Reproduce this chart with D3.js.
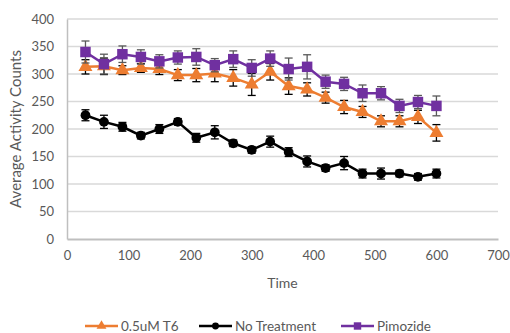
<!DOCTYPE html>
<html>
<head>
<meta charset="utf-8">
<script src="https://cdn.jsdelivr.net/npm/d3@7"></script>
<style>
  body { margin: 0; background: #fff; }
  text { font-family: Lato, "Open Sans", sans-serif; fill: #595959; }
</style>
</head>
<body>
<div id="chart"></div>
<script>
// time points (x)
const times = [30, 60, 90, 120, 150, 180, 210, 240, 270, 300, 330, 360, 390, 420, 450, 480, 510, 540, 570, 600];

// series values
const t6Values = [313, 314, 307, 311, 309, 298, 298, 301, 293, 281, 304, 278, 272, 257, 240, 231, 214, 214, 222, 193];
const t6Err = [13, 15, 8, 8, 10, 10, 12, 15, 15, 20, 15, 15, 12, 10, 12, 10, 10, 10, 12, 15];

const noTreatValues = [225, 213, 204, 188, 200, 213, 184, 194, 174, 162, 177, 158, 141, 129, 138, 119, 119, 119, 113, 119];
const noTreatErr = [10, 12, 8, 6, 8, 6, 8, 12, 6, 6, 10, 8, 10, 6, 12, 8, 10, 6, 6, 8];

const pimozideValues = [340, 318, 336, 331, 323, 330, 331, 316, 327, 311, 328, 309, 313, 286, 282, 265, 265, 242, 249, 242];
const pimozideErr = [20, 18, 15, 13, 12, 12, 15, 12, 15, 15, 14, 20, 22, 12, 12, 15, 12, 12, 12, 18];

const xTicks = [0, 100, 200, 300, 400, 500, 600, 700];
const yTicks = [0, 50, 100, 150, 200, 250, 300, 350, 400];

const series = [
  { name: "0.5uM T6", values: t6Values, err: t6Err, color: "#ed7d31", errColor: "#000", symbol: d3.symbolTriangle, size: 85 },
  { name: "No Treatment", values: noTreatValues, err: noTreatErr, color: "#000000", errColor: "#000", symbol: d3.symbolCircle, size: 75 },
  { name: "Pimozide", values: pimozideValues, err: pimozideErr, color: "#7030a0", errColor: "#595959", symbol: d3.symbolSquare, size: 110 }
];

const W = 510, H = 333;
const margin = { top: 19, right: 12, bottom: 94, left: 67 };

const svg = d3.select("#chart").append("svg")
  .attr("width", W)
  .attr("height", H);

const x = d3.scaleLinear().domain([0, 700]).range([margin.left, W - margin.right]);
const y = d3.scaleLinear().domain([0, 400]).range([H - margin.bottom, margin.top]);

// gridlines
svg.append("g")
  .selectAll("line")
  .data(yTicks.filter(d => d > 0))
  .join("line")
  .attr("x1", x(0)).attr("x2", x(700))
  .attr("y1", d => y(d)).attr("y2", d => y(d))
  .attr("stroke", "#d9d9d9")
  .attr("stroke-width", 1.3);

// axes
const xAxis = svg.append("g")
  .attr("transform", `translate(0, ${y(0)})`)
  .call(d3.axisBottom(x).tickValues(xTicks).tickSize(0).tickPadding(12));
xAxis.select(".domain").attr("stroke", "#bfbfbf").attr("stroke-width", 2);
xAxis.selectAll("text").style("font-size", "13px").attr("fill", "#595959");

const yAxis = svg.append("g")
  .attr("transform", `translate(${x(0)}, 0)`)
  .call(d3.axisLeft(y).tickValues(yTicks).tickSize(0).tickPadding(13));
yAxis.select(".domain").attr("stroke", "#bfbfbf").attr("stroke-width", 1.5);
yAxis.selectAll("text").style("font-size", "13px").attr("fill", "#595959");

// axis titles
svg.append("text")
  .attr("x", (x(0) + x(700)) / 2)
  .attr("y", 288)
  .attr("text-anchor", "middle")
  .style("font-size", "14px")
  .text("Time");

svg.append("text")
  .attr("transform", `translate(21, ${(y(0) + y(400)) / 2}) rotate(-90)`)
  .attr("text-anchor", "middle")
  .style("font-size", "15px")
  .text("Average Activity Counts");

const line = d3.line()
  .x((d, i) => x(times[i]))
  .y(d => y(d));

series.forEach(s => {
  const g = svg.append("g");

  // error bars
  const eb = g.append("g")
    .selectAll("g")
    .data(s.values)
    .join("g")
    .attr("stroke", s.errColor)
    .attr("stroke-width", 1.3);
  eb.append("line")
    .attr("x1", (d, i) => x(times[i])).attr("x2", (d, i) => x(times[i]))
    .attr("y1", (d, i) => y(d - s.err[i])).attr("y2", (d, i) => y(d + s.err[i]));
  eb.append("line")
    .attr("x1", (d, i) => x(times[i]) - 4).attr("x2", (d, i) => x(times[i]) + 4)
    .attr("y1", (d, i) => y(d + s.err[i])).attr("y2", (d, i) => y(d + s.err[i]));
  eb.append("line")
    .attr("x1", (d, i) => x(times[i]) - 4).attr("x2", (d, i) => x(times[i]) + 4)
    .attr("y1", (d, i) => y(d - s.err[i])).attr("y2", (d, i) => y(d - s.err[i]));

  g.append("path")
    .datum(s.values)
    .attr("fill", "none")
    .attr("stroke", s.color)
    .attr("stroke-width", 2.5)
    .attr("d", line);

  g.append("g")
    .selectAll("path")
    .data(s.values)
    .join("path")
    .attr("transform", (d, i) => `translate(${x(times[i])}, ${y(d)})`)
    .attr("d", d3.symbol().type(s.symbol).size(s.size))
    .attr("fill", s.color);
});

// legend
const legendX = [85, 199, 341];
const legend = svg.append("g");
series.forEach((s, i) => {
  const lg = legend.append("g").attr("transform", `translate(${legendX[i]}, 326)`);
  lg.append("line")
    .attr("x1", 0).attr("x2", 33)
    .attr("stroke", s.color)
    .attr("stroke-width", 2.5);
  lg.append("path")
    .attr("transform", "translate(16.5, 0)")
    .attr("d", d3.symbol().type(s.symbol).size(s.size * 0.5))
    .attr("fill", s.color);
  lg.append("text")
    .attr("x", 36)
    .attr("y", 4.5)
    .style("font-size", "13.5px")
    .text(s.name);
});
</script>
</body>
</html>
